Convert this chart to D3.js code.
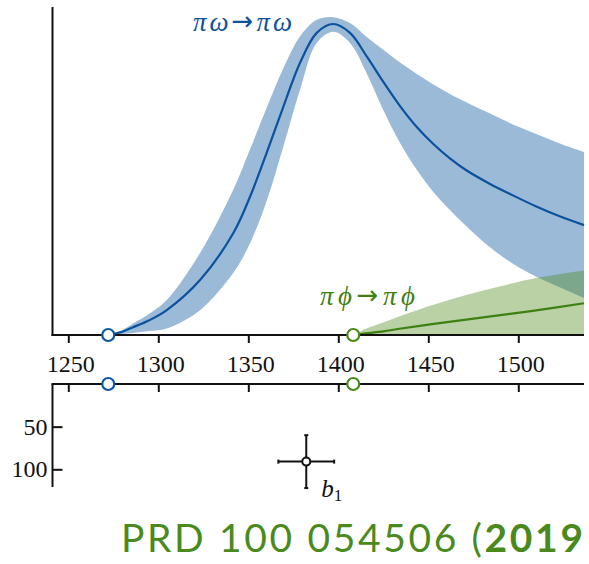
<!DOCTYPE html>
<html>
<head>
<meta charset="utf-8">
<script src="https://cdn.jsdelivr.net/npm/d3@7"></script>
<style>
  html, body { margin: 0; padding: 0; background: #fff; }
  svg { display: block; }
</style>
</head>
<body>
<svg id="chart" width="589" height="564"></svg>
<script>
// ---------------- data ----------------
const xTicks = [1250, 1300, 1350, 1400, 1450, 1500];
const widthTicks = [50, 100];

const omegaEnergy = [1272.2, 1280, 1286, 1295, 1304.7, 1323.2, 1341.7, 1350.9, 1360.2, 1369.4, 1378.7, 1388, 1397.2, 1406.5, 1415.8, 1425, 1434.3, 1443.6, 1452.8, 1462, 1471.3, 1484.3, 1497, 1510, 1523, 1536.5];
const omegaCentral = [0, 0.01, 0.024, 0.045, 0.076, 0.168, 0.312, 0.422, 0.557, 0.697, 0.832, 0.924, 0.951, 0.924, 0.852, 0.774, 0.700, 0.636, 0.584, 0.540, 0.503, 0.462, 0.427, 0.393, 0.363, 0.336];
const omegaUpper = [0, 0.015, 0.035, 0.065, 0.107, 0.251, 0.445, 0.567, 0.695, 0.815, 0.913, 0.964, 0.972, 0.954, 0.911, 0.872, 0.833, 0.798, 0.766, 0.737, 0.711, 0.677, 0.644, 0.615, 0.586, 0.560];
const omegaLower = [0, 0.003, 0.006, 0.012, 0.02, 0.076, 0.19, 0.28, 0.41, 0.575, 0.749, 0.893, 0.927, 0.893, 0.80, 0.688, 0.587, 0.505, 0.437, 0.382, 0.332, 0.268, 0.218, 0.178, 0.146, 0.113];

const phiEnergy = [1408.3, 1415, 1425, 1434, 1452, 1471, 1490, 1508, 1536.5];
const phiCentral = [0, 0.005, 0.011, 0.019, 0.033, 0.047, 0.061, 0.074, 0.097];
const phiUpper = [0, 0.018, 0.038, 0.057, 0.091, 0.122, 0.149, 0.172, 0.197];
const phiLower = [0, 0, 0, 0, 0, 0, 0, 0, 0];

const thresholds = [
  { name: "πω", E: 1272.2, color: "#0b58a3" },
  { name: "πϕ", E: 1408.3, color: "#4a8a17" }
];

// b1 pole: mass, mass error, width, width error
const poleMass = [1382.2];
const poleMassErr = [15.5];
const poleWidth = [91];
const poleWidthErr = [31];

// ---------------- layout ----------------
const SERIF = '"Liberation Serif", "Times New Roman", serif';
const svg = d3.select("#chart");
const left = 52.5, right = 584;
const topY0 = 335, topY1 = 8;
const botY0 = 384, botY1 = 487;

const x = d3.scaleLinear().domain([1250, 1500]).range([68.3, 518.3]);
const yTop = d3.scaleLinear().domain([0, 1]).range([topY0, topY1]);
const yBot = d3.scaleLinear().domain([0, 100]).range([botY0, 469.3]);

const blueLine = "#0b529e";
const blueFill = "#9bbad7";
const greenLine = "#3f8012";
const greenFillBase = "rgb(80,140,30)";

const omega = omegaEnergy.map((e, i) => ({ e, c: omegaCentral[i], u: omegaUpper[i], l: omegaLower[i] }));
const phi = phiEnergy.map((e, i) => ({ e, c: phiCentral[i], u: phiUpper[i], l: phiLower[i] }));

const curve = d3.curveCatmullRom.alpha(0.5);
const area = d3.area().x(d => x(d.e)).y0(d => yTop(d.l)).y1(d => yTop(d.u)).curve(curve);
const line = d3.line().x(d => x(d.e)).y(d => yTop(d.c)).curve(curve);

svg.append("path").datum(omega).attr("d", area).attr("fill", blueFill);
svg.append("path").datum(phi).attr("d", area).attr("fill", greenFillBase).attr("fill-opacity", 0.4);
svg.append("path").datum(omega).attr("d", line).attr("fill", "none").attr("stroke", blueLine).attr("stroke-width", 2.2);
svg.append("path").datum(phi).attr("d", line).attr("fill", "none").attr("stroke", greenLine).attr("stroke-width", 2.2);

// ---------------- top axes ----------------
const axisColor = "#111";
svg.append("line").attr("x1", left).attr("x2", left).attr("y1", topY1 - 1).attr("y2", topY0 + 1)
  .attr("stroke", axisColor).attr("stroke-width", 2);
svg.append("line").attr("x1", left - 1).attr("x2", right).attr("y1", topY0).attr("y2", topY0)
  .attr("stroke", axisColor).attr("stroke-width", 2);

const gx = svg.append("g").attr("transform", `translate(0,${topY0})`)
  .call(d3.axisBottom(x).tickValues(xTicks).tickSize(8).tickFormat(d3.format("d")));
gx.attr("font-family", null).attr("font-size", null);
gx.select(".domain").remove();
gx.selectAll(".tick line").attr("stroke", axisColor).attr("stroke-width", 2);
gx.selectAll(".tick text").style("font-family", SERIF)
  .style("font-size", "24px").attr("fill", "#111")
  .attr("y", 37).attr("dy", 0).attr("dx", 2);

// ---------------- bottom panel axes ----------------
svg.append("line").attr("x1", left).attr("x2", left).attr("y1", botY0).attr("y2", botY1)
  .attr("stroke", axisColor).attr("stroke-width", 2);
svg.append("line").attr("x1", left - 1).attr("x2", right).attr("y1", botY0).attr("y2", botY0)
  .attr("stroke", axisColor).attr("stroke-width", 2);

const gx2 = svg.append("g").attr("transform", `translate(0,${botY0})`)
  .call(d3.axisBottom(x).tickValues(xTicks).tickSize(8).tickFormat(""));
gx2.select(".domain").remove();
gx2.selectAll(".tick line").attr("stroke", axisColor).attr("stroke-width", 2);

const gy2 = svg.append("g").attr("transform", `translate(${left},0)`)
  .call(d3.axisLeft(yBot).tickValues(widthTicks).tickSize(-10).tickPadding(5));
gy2.attr("font-family", null).attr("font-size", null);
gy2.select(".domain").remove();
gy2.selectAll(".tick line").attr("stroke", axisColor).attr("stroke-width", 2);
gy2.selectAll(".tick text").style("font-family", SERIF)
  .style("font-size", "24px").attr("fill", "#111");

// ---------------- threshold markers ----------------
[topY0, botY0].forEach(yy => {
  svg.selectAll(null).data(thresholds).enter().append("circle")
    .attr("cx", d => x(d.E)).attr("cy", yy).attr("r", 6)
    .attr("fill", "#fff").attr("stroke", d => d.color).attr("stroke-width", 2.2);
});

// ---------------- pole with error bars ----------------
const pole = poleMass.map((m, i) => ({ m, dm: poleMassErr[i], w: poleWidth[i], dw: poleWidthErr[i] }));
const pg = svg.append("g");
pole.forEach(p => {
  const cx = x(p.m), cy = yBot(p.w);
  pg.append("line").attr("x1", x(p.m - p.dm)).attr("x2", x(p.m + p.dm)).attr("y1", cy).attr("y2", cy)
    .attr("stroke", "#111").attr("stroke-width", 2);
  pg.append("line").attr("x1", cx).attr("x2", cx).attr("y1", yBot(p.w - p.dw)).attr("y2", yBot(p.w + p.dw))
    .attr("stroke", "#111").attr("stroke-width", 2);
  [p.m - p.dm, p.m + p.dm].forEach(v => pg.append("line").attr("x1", x(v)).attr("x2", x(v))
    .attr("y1", cy - 2).attr("y2", cy + 2).attr("stroke", "#111").attr("stroke-width", 2));
  [p.w - p.dw, p.w + p.dw].forEach(v => pg.append("line").attr("y1", yBot(v)).attr("y2", yBot(v))
    .attr("x1", cx - 2).attr("x2", cx + 2).attr("stroke", "#111").attr("stroke-width", 2));
  pg.append("circle").attr("cx", cx).attr("cy", cy).attr("r", 4)
    .attr("fill", "#fff").attr("stroke", "#111").attr("stroke-width", 2);
  const t = pg.append("text").style("font-family", SERIF).attr("x", cx + 15).attr("y", cy + 35)
    .style("font-size", "25px").attr("fill", "#111");
  t.append("tspan").style("font-style", "italic").text("b");
  t.append("tspan").style("font-size", "17px").attr("dy", 4).text("1");
});

// ---------------- channel labels ----------------
function chanLabel(a, b, xs, ys, col, len) {
  const t = svg.append("text").style("font-family", SERIF).attr("x", xs).attr("y", ys)
    .style("font-size", "27px").attr("fill", col)
    .attr("textLength", len).attr("lengthAdjust", "spacing");
  t.append("tspan").style("font-style", "italic").text(a);
  t.append("tspan").style("font-family", '"DejaVu Sans", sans-serif').style("font-size", "26px").attr("dy", -1).text("→");
  t.append("tspan").style("font-style", "italic").attr("dy", 1).text(b);
}
chanLabel("πω", "πω", 193, 31, blueLine, 99);
chanLabel("πϕ", "πϕ", 320, 305, greenLine, 95);

// ---------------- reference text ----------------
const ref = svg.append("text").attr("x", 121).attr("y", 552)
  .style("font-family", "Lato, 'Open Sans', sans-serif").style("font-size", "39px")
  .attr("fill", "#4a8a1c").attr("textLength", 462).attr("lengthAdjust", "spacing");
ref.append("tspan").text("PRD 100 054506 (");
ref.append("tspan").style("font-weight", "bold").text("2019");
</script>
</body>
</html>
